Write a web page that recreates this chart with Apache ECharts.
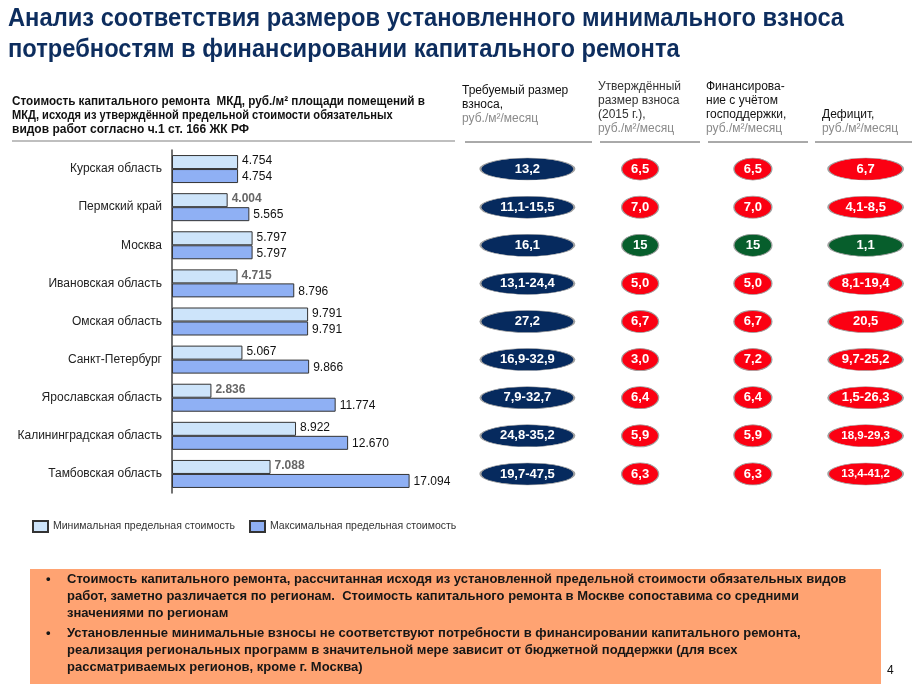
<!DOCTYPE html>
<html><head><meta charset="utf-8">
<script src="https://cdn.jsdelivr.net/npm/echarts@6/dist/echarts.min.js"></script>
<style>html,body{margin:0;padding:0;background:#fff}#c{width:924px;height:690px}</style>
</head><body><div id="c"></div>
<script>
const regions = ['Курская область','Пермский край','Москва','Ивановская область','Омская область','Санкт-Петербург','Ярославская область','Калининградская область','Тамбовская область'];
const minCost = [4754, 4004, 5797, 4715, 9791, 5067, 2836, 8922, 7088];
const maxCost = [4754, 5565, 5797, 8796, 9791, 9866, 11774, 12670, 17094];
const seriesNames = ['Минимальная предельная стоимость','Максимальная предельная стоимость'];
const columns = ['Требуемый размер взноса','Утверждённый размер взноса (2015 г.)','Финансирование с учётом господдержки','Дефицит'];
const required = ['13,2','11,1-15,5','16,1','13,1-24,4','27,2','16,9-32,9','7,9-32,7','24,8-35,2','19,7-47,5'];
const approved = ['6,5','7,0','15','5,0','6,7','3,0','6,4','5,9','6,3'];
const funded = ['6,5','7,0','15','5,0','6,7','7,2','6,4','5,9','6,3'];
const deficit = ['6,7','4,1-8,5','1,1','8,1-19,4','20,5','9,7-25,2','1,5-26,3','18,9-29,3','13,4-41,2'];

const NAVY = '#062a5e', RED = '#fb0012', GREEN = '#075e2c';
const F = 'Liberation Sans, Arial, sans-serif';
const ell = 'path://M0,50A50,50,0,1,1,100,50A50,50,0,1,1,0,50Z';

function fmt(v){ return (v/1000).toFixed(3); }
const grayBoldMin = {1:1,3:1,6:1,8:1};

const colData = [required, approved, funded, deficit];
const colSizes = [[94,22],[37,22],[38,22],[75,22]];
const ellData = [];
colData.forEach((arr, c) => {
  arr.forEach((t, r) => {
    const color = c === 0 ? NAVY : (r === 2 ? GREEN : RED);
    ellData.push({
      name: t, value: [c, r],
      symbolSize: colSizes[c],
      itemStyle: {color: color},
      label: {fontSize: (c === 3 && t.length > 8) ? 11.5 : 13}
    });
  });
});

function txt(x, y, s, style, sx){
  return {type:'text', x:x, y:y, scaleX: sx || 1, style:Object.assign({text:s, font:'12px '+F, fill:'#111', textBaseline:'top'}, style||{})};
}
function line(x1,y1,x2,y2,color,w){
  return {type:'line', shape:{x1,y1,x2,y2}, style:{stroke:color||'#555', lineWidth:w||1}};
}
const TITLE = {font:'bold 26px '+F, fill:'#0d2d5e'};
const HB = {font:'bold 12px '+F, fill:'#111'};
const BB = {font:'bold 13px '+F, fill:'#161616'};
const UNIT = {fill:'#8a8a8a'};

const graphics = [
  txt(8, 6, 'Анализ соответствия размеров установленного минимального взноса', TITLE, 0.912),
  txt(8, 37, 'потребностям в финансировании капитального ремонта', TITLE, 0.912),
  txt(12, 96, 'Стоимость капитального ремонта  МКД, руб./м² площади помещений в', HB, 0.976),
  txt(12, 110, 'МКД, исходя из утверждённой предельной стоимости обязательных', HB, 0.925),
  txt(12, 124, 'видов работ согласно ч.1 ст. 166 ЖК РФ', HB, 1),
  line(12, 141, 455, 141, '#aaa', 1.5),
  txt(462, 85, 'Требуемый размер', {}),
  txt(462, 99, 'взноса,', {}),
  txt(462, 113, 'руб./м²/месяц', UNIT),
  txt(598, 81, 'Утверждённый', {fill:'#333'}),
  txt(598, 95, 'размер взноса', {fill:'#333'}),
  txt(598, 109, '(2015 г.),', {fill:'#333'}),
  txt(598, 123, 'руб./м²/месяц', UNIT),
  txt(706, 81, 'Финансирова-', {}),
  txt(706, 95, 'ние с учётом', {}),
  txt(706, 109, 'господдержки,', {}),
  txt(706, 123, 'руб./м²/месяц', UNIT),
  txt(822, 109, 'Дефицит,', {}),
  txt(822, 123, 'руб./м²/месяц', UNIT),
  line(465, 142, 592, 142, '#555', 1),
  line(600, 142, 700, 142, '#555', 1),
  line(708, 142, 808, 142, '#555', 1),
  line(815, 142, 912, 142, '#555', 1),
  {type:'rect', shape:{x:30, y:569, width:851, height:115}, style:{fill:'#ffa372'}},
  txt(46, 573, '•', BB),
  txt(67, 573, 'Стоимость капитального ремонта, рассчитанная исходя из установленной предельной стоимости обязательных видов', BB),
  txt(67, 590, 'работ, заметно различается по регионам.  Стоимость капитального ремонта в Москве сопоставима со средними', BB),
  txt(67, 607, 'значениями по регионам', BB),
  txt(46, 627, '•', BB),
  txt(67, 627, 'Установленные минимальные взносы не соответствуют потребности в финансировании капитального ремонта,', BB),
  txt(67, 644, 'реализация региональных программ в значительной мере зависит от бюджетной поддержки (для всех', BB),
  txt(67, 661, 'рассматриваемых регионов, кроме г. Москва)', BB),
  txt(887, 665, '4', {font:'12px '+F})
];

const chart = echarts.init(document.getElementById('c'), null, {renderer:'canvas'});
chart.setOption({
  animation: false,
  textStyle: {fontFamily: F},
  legend: {
    left: 27, top: 515, itemWidth: 15, itemHeight: 11, itemGap: 14,
    textStyle: {fontSize: 10.5, color: '#333'},
    data: [{name: seriesNames[0], icon: 'rect'}, {name: seriesNames[1], icon: 'rect'}]
  },
  grid: [
    {left: 172, top: 150, width: 278, height: 343},
    {left: 471, top: 150, width: 451, height: 343}
  ],
  xAxis: [
    {gridIndex: 0, type: 'value', min: 0, max: 20000, show: false},
    {gridIndex: 1, type: 'category', data: columns, show: false}
  ],
  yAxis: [
    {gridIndex: 0, type: 'category', data: regions, inverse: true,
     axisLine: {show: true, lineStyle: {color: '#444', width: 1.5}},
     axisTick: {show: false},
     axisLabel: {fontSize: 12, color: '#222', margin: 10}},
    {gridIndex: 1, type: 'category', data: regions, inverse: true, show: false}
  ],
  series: [
    {name: seriesNames[0], type: 'bar', xAxisIndex: 0, yAxisIndex: 0, barWidth: 14, barGap: '0%',
     data: minCost.map((v,i) => ({value: v, label: grayBoldMin[i] ? {color: '#666', fontWeight: 'bold'} : {}})),
     itemStyle: {color: '#cde4fa', borderColor: '#333', borderWidth: 1},
     label: {show: true, position: 'right', distance: 4, fontSize: 12, color: '#111', formatter: p => fmt(p.value), offset: [0, -1]}},
    {name: seriesNames[1], type: 'bar', xAxisIndex: 0, yAxisIndex: 0, barWidth: 14,
     data: maxCost,
     itemStyle: {color: '#8fb0f4', borderColor: '#333', borderWidth: 1},
     label: {show: true, position: 'right', distance: 4, fontSize: 12, color: '#111', formatter: p => fmt(p.value), offset: [0, 1]}},
    {type: 'scatter', xAxisIndex: 1, yAxisIndex: 1, symbol: ell, data: ellData,
     itemStyle: {borderColor: '#a0a0a0', borderWidth: 1, opacity: 1},
     emphasis: {disabled: true},
     label: {show: true, position: 'inside', color: '#fff', fontWeight: 'bold', fontFamily: F, formatter: p => p.name}}
  ],
  graphic: graphics
});
</script></body></html>
